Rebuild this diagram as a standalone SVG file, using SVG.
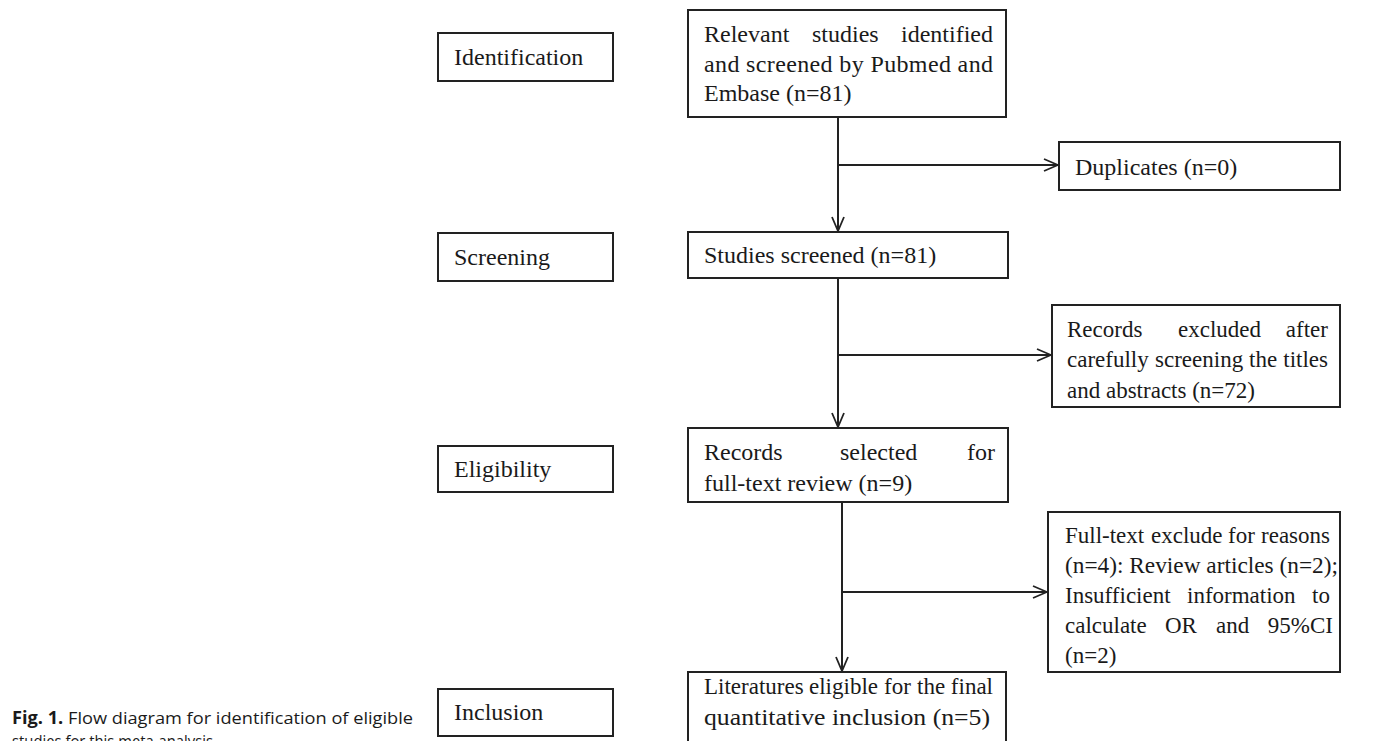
<svg xmlns="http://www.w3.org/2000/svg" width="1383" height="741" viewBox="0 0 1383 741">
<style>
.box{fill:#fff;stroke:#222;stroke-width:2}
.t{font-family:"Liberation Serif","Times New Roman",serif;font-size:24px;fill:#1a1a1a}
.s{font-size:23px}
.c{stroke:#222;stroke-width:2;fill:none}
.cap{font-family:"Open Sans","Liberation Sans",sans-serif;font-size:17px;fill:#1a1a1a}
</style>
<defs>
<marker id="arr" markerWidth="17" markerHeight="14" refX="15" refY="7" orient="auto" markerUnits="userSpaceOnUse">
<path d="M1,1 L15,7 L1,13" fill="none" stroke="#222" stroke-width="1.8"/>
</marker>
</defs>
<rect width="1383" height="741" fill="#fff"/>

<g id="stage-identification"><rect class="box" x="438" y="33" width="175" height="48"/><text class="t" x="454" y="65">Identification</text></g>
<g id="stage-screening"><rect class="box" x="438" y="233" width="175" height="48"/><text class="t" x="454" y="265">Screening</text></g>
<g id="stage-eligibility"><rect class="box" x="438" y="446" width="175" height="46"/><text class="t" x="454" y="477">Eligibility</text></g>
<g id="stage-inclusion"><rect class="box" x="438" y="689" width="175" height="47"/><text class="t" x="454" y="720">Inclusion</text></g>

<g id="connectors">
<line class="c" x1="838" y1="117" x2="838" y2="231" marker-end="url(#arr)"/>
<line class="c" x1="838" y1="165" x2="1058" y2="165" marker-end="url(#arr)"/>
<line class="c" x1="838" y1="278" x2="838" y2="427" marker-end="url(#arr)"/>
<line class="c" x1="838" y1="355" x2="1051" y2="355" marker-end="url(#arr)"/>
<line class="c" x1="842" y1="502" x2="842" y2="671" marker-end="url(#arr)"/>
<line class="c" x1="842" y1="592" x2="1047" y2="592" marker-end="url(#arr)"/>
</g>

<g id="n-identified">
<rect class="box" x="688" y="10" width="318" height="107"/>
<text class="t" y="42"><tspan x="704">Relevant</tspan><tspan x="812">studies</tspan><tspan x="993" text-anchor="end">identified</tspan></text>
<text class="t" x="704" y="72" textLength="289" lengthAdjust="spacing">and screened by Pubmed and</text>
<text class="t" x="704" y="101">Embase (n=81)</text>
</g>

<g id="n-duplicates">
<rect class="box" x="1059" y="142" width="281" height="48"/>
<text class="t" x="1075" y="175">Duplicates (n=0)</text>
</g>

<g id="n-screened">
<rect class="box" x="688" y="232" width="320" height="46"/>
<text class="t" x="704" y="263">Studies screened (n=81)</text>
</g>

<g id="n-excluded">
<rect class="box" x="1052" y="305" width="288" height="102"/>
<text class="t s" y="337"><tspan x="1067">Records</tspan><tspan x="1178">excluded</tspan><tspan x="1328" text-anchor="end">after</tspan></text>
<text class="t s" y="367"><tspan x="1067">carefully</tspan><tspan x="1155">screening</tspan><tspan x="1249">the</tspan><tspan x="1328" text-anchor="end">titles</tspan></text>
<text class="t s" x="1067" y="398">and abstracts (n=72)</text>
</g>

<g id="n-fulltext">
<rect class="box" x="688" y="428" width="320" height="74"/>
<text class="t" y="460"><tspan x="704">Records</tspan><tspan x="840">selected</tspan><tspan x="995" text-anchor="end">for</tspan></text>
<text class="t" x="704" y="491">full-text review (n=9)</text>
</g>

<g id="n-fulltext-excluded">
<rect class="box" x="1048" y="512" width="292" height="160"/>
<text class="t s" y="543"><tspan x="1065">Full-text</tspan><tspan x="1151">exclude</tspan><tspan x="1228">for</tspan><tspan x="1330" text-anchor="end">reasons</tspan></text>
<text class="t s" x="1065" y="573" textLength="273" lengthAdjust="spacingAndGlyphs">(n=4): Review articles (n=2);</text>
<text class="t s" y="603"><tspan x="1065">Insufficient</tspan><tspan x="1187">information</tspan><tspan x="1330" text-anchor="end">to</tspan></text>
<text class="t s" y="633"><tspan x="1065">calculate</tspan><tspan x="1165">OR</tspan><tspan x="1216">and</tspan><tspan x="1333" text-anchor="end">95%CI</tspan></text>
<text class="t s" x="1065" y="663">(n=2)</text>
</g>

<g id="n-included">
<rect class="box" x="688" y="672" width="318" height="80"/>
<text class="t s" y="694"><tspan x="704">Literatures</tspan><tspan x="809">eligible</tspan><tspan x="884">for</tspan><tspan x="917">the</tspan><tspan x="993" text-anchor="end">final</tspan></text>
<text class="t" x="704" y="725" textLength="286" lengthAdjust="spacingAndGlyphs">quantitative inclusion (n=5)</text>
</g>

<g id="caption">
<text class="cap" x="12" y="724" textLength="401" lengthAdjust="spacingAndGlyphs"><tspan font-weight="bold">Fig. 1.</tspan> Flow diagram for identification of eligible</text>
<text class="cap" x="12" y="747" textLength="205" lengthAdjust="spacingAndGlyphs">studies for this meta-analysis.</text>
</g>
</svg>
